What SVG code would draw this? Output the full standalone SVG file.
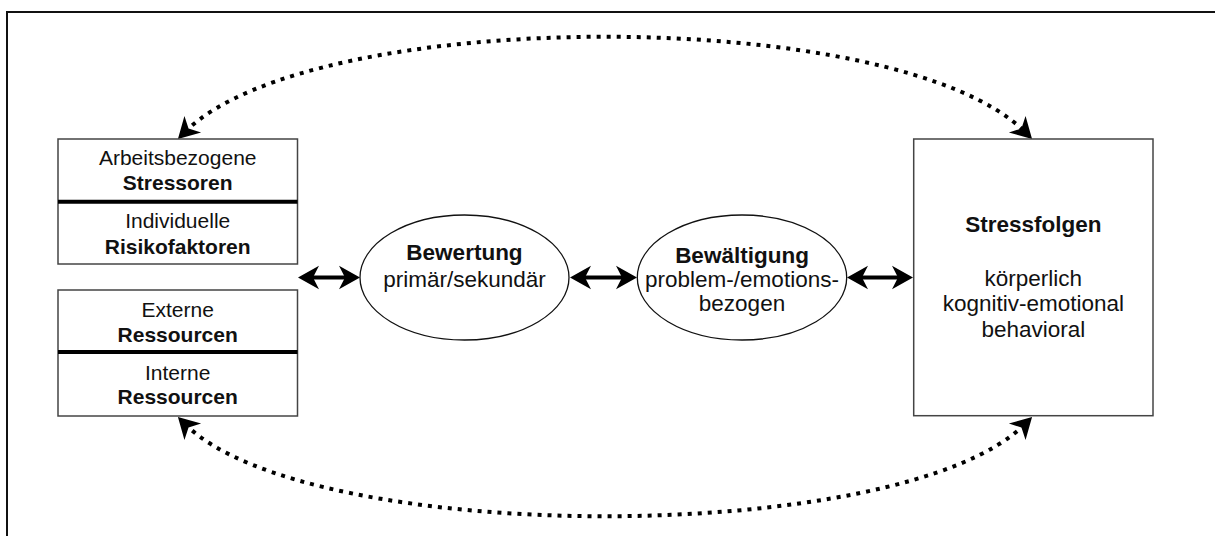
<svg xmlns="http://www.w3.org/2000/svg" width="1215" height="536" viewBox="0 0 1215 536">
  <style>
    .t { font-family: "Liberation Sans", Arial, sans-serif; fill: #111; text-anchor: middle; }
    .l { font-size: 21px; }
    .m { font-size: 22.5px; }
    .b { font-weight: bold; }
    .box { fill: #fff; stroke: #444; stroke-width: 1.5; }
    .sep { stroke: #000; stroke-width: 4; }
    .ell { fill: #fff; stroke: #111; stroke-width: 1.3; }
    .solid { fill: none; stroke: #000; stroke-width: 4; }
    .dot { fill: none; stroke: #000; stroke-width: 4; stroke-dasharray: 4 6; }
  </style>
  <defs>
    <marker id="ah" markerUnits="userSpaceOnUse" viewBox="-14 -14 28 28" refX="0" refY="0" markerWidth="28" markerHeight="28" orient="auto-start-reverse" overflow="visible">
      <path d="M10,0 L-11,-11.8 L-5,0 L-11,11.8 Z" fill="#000"/>
    </marker>
  </defs>

  <path d="M7,536 V12 H1215" fill="none" stroke="#111" stroke-width="2"/>

  <g id="connectors">
    <path class="solid" d="M308,277.5 H350" marker-start="url(#ah)" marker-end="url(#ah)"/>
    <path class="solid" d="M580,277.5 H627" marker-start="url(#ah)" marker-end="url(#ah)"/>
    <path class="solid" d="M857,277.5 H903" marker-start="url(#ah)" marker-end="url(#ah)"/>
    <path class="dot" d="M185,132 C312,5 898,5 1025,132" marker-start="url(#ah)" marker-end="url(#ah)"/>
    <path class="dot" d="M185,424 C308,547 902,547 1025,424" marker-start="url(#ah)" marker-end="url(#ah)"/>
  </g>

  <g id="stressoren">
    <rect class="box" x="58" y="139" width="239.5" height="125"/>
    <line class="sep" x1="58" y1="201.7" x2="297.5" y2="201.7"/>
    <text class="t l" x="177.7" y="165">Arbeitsbezogene</text>
    <text class="t l b" x="177.7" y="190">Stressoren</text>
    <text class="t l" x="177.7" y="228">Individuelle</text>
    <text class="t l b" x="177.7" y="254">Risikofaktoren</text>
  </g>

  <g id="ressourcen">
    <rect class="box" x="58" y="290" width="239.5" height="126"/>
    <line class="sep" x1="58" y1="352" x2="297.5" y2="352"/>
    <text class="t l" x="177.7" y="317">Externe</text>
    <text class="t l b" x="177.7" y="342">Ressourcen</text>
    <text class="t l" x="177.7" y="380">Interne</text>
    <text class="t l b" x="177.7" y="404">Ressourcen</text>
  </g>

  <g id="bewertung">
    <ellipse class="ell" cx="464.5" cy="277.5" rx="104.5" ry="62.5"/>
    <text class="t m b" x="464.5" y="260">Bewertung</text>
    <text class="t m" x="464.5" y="287">primär/sekundär</text>
  </g>

  <g id="bewaeltigung">
    <ellipse class="ell" cx="742" cy="277.5" rx="104.7" ry="62.5"/>
    <text class="t m b" x="742" y="262.5">Bewältigung</text>
    <text class="t m" x="742" y="287.3">problem-/emotions-</text>
    <text class="t m" x="742" y="311">bezogen</text>
  </g>

  <g id="stressfolgen">
    <rect class="box" x="913.7" y="139" width="239.3" height="276.7"/>
    <text class="t m b" x="1033.3" y="231.7">Stressfolgen</text>
    <text class="t m" x="1033.3" y="285.7">körperlich</text>
    <text class="t m" x="1033.3" y="311">kognitiv-emotional</text>
    <text class="t m" x="1033.3" y="337">behavioral</text>
  </g>
</svg>
